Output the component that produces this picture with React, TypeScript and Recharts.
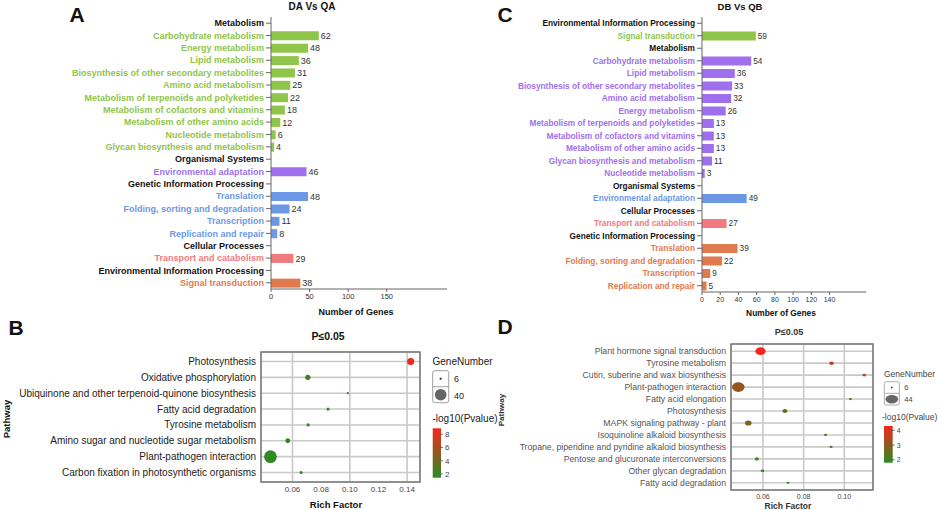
import React from "react";
import {
  BarChart,
  Bar,
  XAxis,
  YAxis,
  Cell,
  LabelList,
  ScatterChart,
  Scatter,
  ZAxis,
  CartesianGrid,
  ReferenceArea,
} from "recharts";

const FONT = '"Liberation Sans", Arial, sans-serif';

// ---- panel A: DA Vs QA ----
const aCategories = [
  "Metabolism",
  "Carbohydrate metabolism",
  "Energy metabolism",
  "Lipid metabolism",
  "Biosynthesis of other secondary metabolites",
  "Amino acid metabolism",
  "Metabolism of terpenoids and polyketides",
  "Metabolism of cofactors and vitamins",
  "Metabolism of other amino acids",
  "Nucleotide metabolism",
  "Glycan biosynthesis and metabolism",
  "Organismal Systems",
  "Environmental adaptation",
  "Genetic Information Processing",
  "Translation",
  "Folding, sorting and degradation",
  "Transcription",
  "Replication and repair",
  "Cellular Processes",
  "Transport and catabolism",
  "Environmental Information Processing",
  "Signal transduction",
];
const aValues = [null, 62, 48, 36, 31, 25, 22, 18, 12, 6, 4, null, 46, null, 48, 24, 11, 8, null, 29, null, 38];
const aGroups = [
  "head", "met", "met", "met", "met", "met", "met", "met", "met", "met", "met",
  "head", "org", "head", "gen", "gen", "gen", "gen", "head", "cel", "head", "env",
];
const aTicks = [0, 50, 100, 150];

// ---- panel C: DB Vs QB ----
const cCategories = [
  "Environmental Information Processing",
  "Signal transduction",
  "Metabolism",
  "Carbohydrate metabolism",
  "Lipid metabolism",
  "Biosynthesis of other secondary metabolites",
  "Amino acid metabolism",
  "Energy metabolism",
  "Metabolism of terpenoids and polyketides",
  "Metabolism of cofactors and vitamins",
  "Metabolism of other amino acids",
  "Glycan biosynthesis and metabolism",
  "Nucleotide metabolism",
  "Organismal Systems",
  "Environmental adaptation",
  "Cellular Processes",
  "Transport and catabolism",
  "Genetic Information Processing",
  "Translation",
  "Folding, sorting and degradation",
  "Transcription",
  "Replication and repair",
];
const cValues = [null, 59, null, 54, 36, 33, 32, 26, 13, 13, 13, 11, 3, null, 49, null, 27, null, 39, 22, 9, 5];
const cGroups = [
  "head", "env", "head", "met", "met", "met", "met", "met", "met", "met", "met", "met", "met",
  "head", "org", "head", "cel", "head", "gen", "gen", "gen", "gen",
];
const cTicks = [0, 20, 40, 60, 80, 100, 120, 140];

// ---- panel B: bubble ----
const bNames = [
  "Photosynthesis",
  "Oxidative phosphorylation",
  "Ubiquinone and other terpenoid-quinone biosynthesis",
  "Fatty acid degradation",
  "Tyrosine metabolism",
  "Amino sugar and nucleotide sugar metabolism",
  "Plant-pathogen interaction",
  "Carbon fixation in photosynthetic organisms",
];
const bRich = [0.1425, 0.0707, 0.0986, 0.0848, 0.0709, 0.0567, 0.0446, 0.066];
const bGenes = [16, 11, 6, 7, 7, 10, 40, 7];
const bLogP = [8.5, 2.8, 1.6, 1.6, 1.6, 1.8, 1.7, 1.5];
const bTicks = [0.06, 0.08, 0.1, 0.12, 0.14];

// ---- panel D: bubble ----
const dNames = [
  "Plant hormone signal transduction",
  "Tyrosine metabolism",
  "Cutin, suberine and wax biosynthesis",
  "Plant-pathogen interaction",
  "Fatty acid elongation",
  "Photosynthesis",
  "MAPK signaling pathway - plant",
  "Isoquinoline alkaloid biosynthesis",
  "Tropane, piperidine and pyridine alkaloid biosynthesis",
  "Pentose and glucuronate interconversions",
  "Other glycan degradation",
  "Fatty acid degradation",
];
const dRich = [0.0588, 0.0937, 0.1098, 0.0479, 0.103, 0.0708, 0.0528, 0.0908, 0.0935, 0.057, 0.0598, 0.0723];
const dGenes = [30, 9, 7, 44, 6, 10, 15, 6, 6, 8, 7, 6];
const dLogP = [4.3, 3.8, 3.5, 3.1, 2.8, 2.6, 2.6, 2.7, 2.4, 2.0, 1.9, 1.9];
const dTicks = [0.06, 0.08, 0.1];

const GREEN = "#8fc54a";
const PURPLE = "#9f70ee";
const BLUE = "#6c98e6";
const PINK = "#ef7a80";
const ORANGE = "#df7b4f";

const aPalette: Record<string, string> = { met: GREEN, org: PURPLE, gen: BLUE, cel: PINK, env: ORANGE };
const cPalette: Record<string, string> = { env: GREEN, met: PURPLE, org: BLUE, cel: PINK, gen: ORANGE };

const LOW = [42, 140, 36];
const HIGH = [246, 38, 28];
function heat(v: number, min: number, max: number) {
  const t = Math.max(0, Math.min(1, (v - min) / (max - min)));
  const c = LOW.map((l, i) => Math.round(l + (HIGH[i] - l) * t));
  return `rgb(${c[0]},${c[1]},${c[2]})`;
}

function GenePanel(props: any) {
  const { categories, values, groups, palette, domain, ticks, width, height, yWidth, right, labelSize, valueSize, tickSize } = props;
  const data = categories.map((name: string, i: number) => ({ name, value: values[i], group: groups[i] }));
  const groupOf: Record<string, string> = {};
  data.forEach((d: any) => (groupOf[d.name] = d.group));

  const renderTick = (p: any) => {
    const g = groupOf[p.payload.value];
    return (
      <text x={p.x} y={p.y} dy="0.35em" textAnchor="end" fontSize={labelSize} fontWeight="bold" fontFamily={FONT}
        fill={g === "head" ? "#111" : palette[g]}>
        {p.payload.value}
      </text>
    );
  };
  const renderValue = (p: any) => {
    if (p.value == null) return null;
    return (
      <text x={Number(p.x) + Number(p.width) + 2} y={Number(p.y) + Number(p.height) / 2} dy="0.35em"
        fontSize={valueSize} fontFamily={FONT} fill="#333">
        {p.value}
      </text>
    );
  };

  return (
    <BarChart width={width} height={height} data={data} layout="vertical"
      margin={{ top: 17, right, bottom: 0, left: 0 }}>
      <XAxis type="number" domain={domain} ticks={ticks} tickSize={3} height={16} stroke="#666"
        tick={{ fontSize: tickSize, fill: "#333", fontFamily: FONT }} allowDataOverflow />
      <XAxis xAxisId="top" orientation="top" type="number" domain={domain} tick={false} tickLine={false}
        axisLine={{ stroke: "#999" }} height={0} />
      <YAxis type="category" dataKey="name" width={yWidth} interval={0} tick={renderTick} tickSize={5}
        tickMargin={2} stroke="#666" />
      <YAxis yAxisId="right" orientation="right" type="category" dataKey="name" tick={false} tickLine={false}
        axisLine={{ stroke: "#999" }} width={0} />
      <Bar dataKey="value" barSize={9} isAnimationActive={false}>
        {data.map((d: any, i: number) => (
          <Cell key={i} fill={palette[d.group] ?? "none"} />
        ))}
        <LabelList dataKey="value" content={renderValue} />
      </Bar>
    </BarChart>
  );
}

function BubblePanel(props: any) {
  const { names, rich, genes, logp, ticks, xDomain, width, height, yWidth, right, top, xHeight, zDomain, zRange,
    pDomain, labelSize, labelColor, tickSize, stretch } = props;
  const data = names.map((n: string, i: number) => ({ x: rich[i], y: i + 1, z: genes[i], p: logp[i] }));
  const yTicks = names.map((_: string, i: number) => i + 1);
  const shape = (p: any) => {
    const r = Math.sqrt(Number(p.size) / Math.PI);
    return <ellipse cx={p.cx} cy={p.cy} rx={r * stretch} ry={r / Math.sqrt(stretch)} fill={p.fill} />;
  };
  const nameTick = (p: any) => (
    <text x={p.x} y={p.y} dy="0.35em" textAnchor="end" fontSize={labelSize} fill={labelColor} fontFamily={FONT}>
      {names[Math.round(p.payload.value) - 1]}
    </text>
  );
  const yDomain = [0.4, names.length + 0.6];
  return (
    <ScatterChart width={width} height={height} margin={{ top, right, bottom: 0, left: 0 }}>
      <CartesianGrid stroke="#c9c9c9" strokeWidth={1.6} />
      <XAxis type="number" dataKey="x" domain={xDomain} ticks={ticks} tickFormatter={(v: number) => v.toFixed(2)}
        height={xHeight} axisLine={false} tickLine={false} tickSize={0} tickMargin={4}
        tick={{ fontSize: tickSize, fill: "#444", fontFamily: FONT }} />
      <YAxis type="number" dataKey="y" domain={yDomain} ticks={yTicks} reversed interval={0}
        width={yWidth} axisLine={false} tickLine={false} tickSize={0} tickMargin={5} tick={nameTick} />
      <ZAxis type="number" dataKey="z" domain={zDomain} range={zRange} />
      <ReferenceArea x1={xDomain[0]} x2={xDomain[1]} y1={yDomain[0]} y2={yDomain[1]} fill="none"
        stroke="#7a7a7a" strokeWidth={1.5} ifOverflow="visible" />
      <Scatter data={data} shape={shape} isAnimationActive={false}>
        {data.map((d: any, i: number) => (
          <Cell key={i} fill={heat(d.p, pDomain[0], pDomain[1])} />
        ))}
      </Scatter>
    </ScatterChart>
  );
}

function ColorBar(props: any) {
  const { id, x, y, w, h, domain, ticks, fontSize } = props;
  const [lo, hi] = domain;
  const pos = (v: number) => y + ((hi - v) / (hi - lo)) * h;
  return (
    <g>
      <defs>
        <linearGradient id={id} x1="0" y1="0" x2="0" y2="1">
          <stop offset="0" stopColor={heat(hi, lo, hi)} />
          <stop offset="1" stopColor={heat(lo, lo, hi)} />
        </linearGradient>
      </defs>
      <rect x={x} y={y} width={w} height={h} fill={`url(#${id})`} />
      {ticks.map((t: number) => (
        <g key={t}>
          <line x1={x + w - 2} x2={x + w + 2} y1={pos(t)} y2={pos(t)} stroke="#555" strokeWidth={0.8} />
          <text x={x + w + 4} y={pos(t)} dy="0.35em" fontSize={fontSize} fill="#444" fontFamily={FONT}>{t}</text>
        </g>
      ))}
    </g>
  );
}

export default function App() {
  const bP = [1.44, 8.9];
  const dP = [1.8, 4.3];
  return (
    <div style={{ position: "absolute", left: 0, top: 0, width: 941, height: 510, overflow: "hidden", background: "#fff" }}>
      <div style={{ position: "absolute", left: 0, top: 0 }}>
        <GenePanel categories={aCategories} values={aValues} groups={aGroups} palette={aPalette}
          domain={[0, 228]} ticks={aTicks} width={470} height={305} yWidth={271} right={23}
          labelSize={9} valueSize={9} tickSize={7.5} />
      </div>
      <div style={{ position: "absolute", left: 470, top: 0 }}>
        <GenePanel categories={cCategories} values={cValues} groups={cGroups} palette={cPalette}
          domain={[0, 180]} ticks={cTicks} width={471} height={308} yWidth={232} right={75}
          labelSize={8.3} valueSize={8.3} tickSize={7} />
      </div>
      <div style={{ position: "absolute", left: 0, top: 330 }}>
        <BubblePanel names={bNames} rich={bRich} genes={bGenes} logp={bLogP} ticks={bTicks}
          xDomain={[0.038, 0.149]} width={470} height={170} yWidth={261} right={50} top={22} xHeight={18}
          zDomain={[6, 40]} zRange={[4, 127]} pDomain={bP} labelSize={10} labelColor="#222" tickSize={8}
          stretch={1} />
      </div>
      <div style={{ position: "absolute", left: 470, top: 330 }}>
        <BubblePanel names={dNames} rich={dRich} genes={dGenes} logp={dLogP} ticks={dTicks}
          xDomain={[0.0443, 0.1141]} width={471} height={178} yWidth={261} right={68} top={14} xHeight={18}
          zDomain={[6, 44]} zRange={[5, 88]} pDomain={dP} labelSize={8.7} labelColor="#555" tickSize={7}
          stretch={1.2} />
      </div>
      <svg width={941} height={510} style={{ position: "absolute", left: 0, top: 0, pointerEvents: "none" }}
        fontFamily={FONT}>
        <text x={77} y={22} fontSize={21} fontWeight="bold" textAnchor="middle" fill="#111">A</text>
        <text x={505} y={22} fontSize={21} fontWeight="bold" textAnchor="middle" fill="#111">C</text>
        <text x={16} y={335} fontSize={21} fontWeight="bold" textAnchor="middle" fill="#111">B</text>
        <text x={505} y={334} fontSize={21} fontWeight="bold" textAnchor="middle" fill="#111">D</text>

        <text x={312} y={10} fontSize={10} fontWeight="bold" textAnchor="middle" fill="#111">DA Vs QA</text>
        <text x={740} y={10} fontSize={9.5} fontWeight="bold" textAnchor="middle" fill="#111">DB Vs QB</text>
        <text x={356} y={315} fontSize={9} fontWeight="bold" textAnchor="middle" fill="#111">Number of Genes</text>
        <text x={781} y={316} fontSize={8.4} fontWeight="bold" textAnchor="middle" fill="#111">Number of Genes</text>

        <text x={328} y={339.5} fontSize={10.5} fontWeight="bold" textAnchor="middle" fill="#111">P≤0.05</text>
        <text x={336} y={508} fontSize={9.5} fontWeight="bold" textAnchor="middle" fill="#111">Rich Factor</text>
        <text x={7} y={419} fontSize={9.5} fontWeight="bold" textAnchor="middle" fill="#111"
          transform="rotate(-90 7 419)" dy="0.35em">Pathway</text>

        <text x={789} y={335} fontSize={9} fontWeight="bold" textAnchor="middle" fill="#333">P≤0.05</text>
        <text x={788} y={509} fontSize={8.5} fontWeight="bold" textAnchor="middle" fill="#333">Rich Factor</text>
        <text x={501} y={410} fontSize={8} fontWeight="bold" textAnchor="middle" fill="#333"
          transform="rotate(-90 501 410)" dy="0.35em">Pathway</text>

        {/* B legend */}
        <text x={432.5} y={365} fontSize={10} fill="#222">GeneNumber</text>
        <rect x={432.7} y={370.7} width={16} height={32} rx={2} fill="#fff" stroke="#888" strokeWidth={0.8} />
        <line x1={432.7} x2={448.7} y1={386.7} y2={386.7} stroke="#888" strokeWidth={0.8} />
        <circle cx={440.7} cy={378.7} r={1.2} fill="#555" />
        <circle cx={440.7} cy={394.7} r={5.8} fill="#666" />
        <text x={454} y={378.7} dy="0.35em" fontSize={9} fill="#222">6</text>
        <text x={454} y={395.7} dy="0.35em" fontSize={9} fill="#222">40</text>
        <text x={432.5} y={421.7} fontSize={10} fill="#222">-log10(Pvalue)</text>
        <ColorBar id="gb" x={432.7} y={428.3} w={8.3} h={49.4} domain={bP} ticks={[8, 6, 4, 2]} fontSize={8} />

        {/* D legend */}
        <text x={884} y={376.7} fontSize={8.5} fill="#444">GeneNumber</text>
        <rect x={884.3} y={381.7} width={15} height={23.3} rx={2} fill="#fff" stroke="#999" strokeWidth={0.8} />
        <line x1={884.3} x2={899.3} y1={393.3} y2={393.3} stroke="#999" strokeWidth={0.8} />
        <circle cx={891.8} cy={387.5} r={1} fill="#555" />
        <ellipse cx={891.8} cy={399.2} rx={6.3} ry={4.2} fill="#666" />
        <text x={904.3} y={387.5} dy="0.35em" fontSize={7.5} fill="#444">6</text>
        <text x={904.3} y={399.2} dy="0.35em" fontSize={7.5} fill="#444">44</text>
        <text x={882} y={420} fontSize={8.5} fill="#444">-log10(Pvalue)</text>
        <ColorBar id="gd" x={884} y={426} w={8.7} h={36.7} domain={dP} ticks={[4, 3, 2]} fontSize={7} />
      </svg>
    </div>
  );
}
